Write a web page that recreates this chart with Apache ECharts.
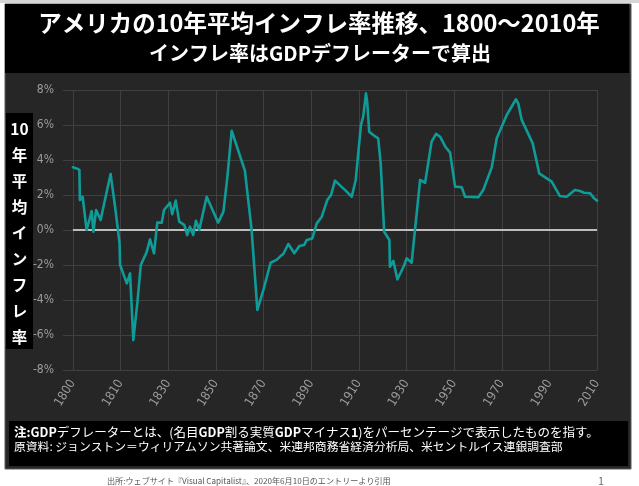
<!DOCTYPE html>
<html>
<head>
<meta charset="utf-8">
<script src="https://cdn.jsdelivr.net/npm/echarts@6/dist/echarts.min.js"></script>
<style>
html,body{margin:0;padding:0;background:#fff;}
#c{width:639px;height:486px;}
</style>
</head>
<body>
<div id="c"></div>
<script>
const titleText = 'アメリカの10年平均インフレ率推移、1800～2010年';
const subtitleText = 'インフレ率はGDPデフレーターで算出';
const yAxisTitle = ['10','年','平','均','イ','ン','フ','レ','率'];
const tickLabels = ['1800','1810','1830','1850','1870','1890','1910','1930','1950','1970','1990','2010'];
const yTickValues = [-8,-6,-4,-2,0,2,4,6,8];
const years = [1800,1801.5,1802.6,1802.8,1803.9,1804.7,1805.5,1806.6,1807.5,1808.2,1809.3,1809.9,1811.1,1815.1,1816.9,1818.7,1818.9,1821.6,1822.9,1824.2,1825.8,1827.2,1829.6,1830.9,1832.5,1833.8,1835.6,1836.5,1838.9,1839.8,1841.2,1842.6,1844.6,1845.8,1846.9,1848.2,1849.3,1850.6,1853.6,1858.2,1860.3,1861.9,1863.6,1868.9,1871.6,1873.9,1876.3,1879.2,1881.6,1883.2,1884.3,1886.3,1888.7,1890.7,1892.6,1893.7,1895.9,1897.7,1899.7,1901.9,1903.4,1905,1908.3,1909.7,1911.7,1913.3,1915.4,1916.3,1917.4,1917.9,1918.7,1920.3,1922.3,1923.3,1924.7,1926.8,1927.0,1928.4,1930.0,1932.6,1933.7,1935.7,1939.1,1941.1,1943.7,1945.5,1947.1,1949.2,1951.1,1951.8,1953.1,1955.8,1957.1,1962.4,1964.4,1967.8,1969.8,1973.8,1977.5,1978.4,1979.8,1984.2,1986.8,1991.8,1995.1,1997.8,2001.1,2003.1,2004.8,2007.2,2008.8,2010];
const inflation = [3.58,3.52,3.43,1.71,1.90,2.0,0,0.57,1.08,-0.1,1.14,1.14,0.57,3.2,1.33,-0.76,-2.0,-3.05,-2.48,-6.29,-4.19,-2.0,-1.24,-0.53,-1.33,0.42,0.42,1.14,1.56,0.9,1.68,0.48,0.29,-0.29,0.19,-0.29,0.53,0,1.9,0.42,1.05,3.05,5.67,3.39,0,-4.57,-3.43,-1.87,-1.71,-1.49,-1.37,-0.8,-1.33,-0.91,-0.86,-0.57,-0.48,0.38,0.76,1.71,2.0,2.82,2.38,2.19,1.9,2.86,6.0,6.48,7.81,7.33,5.62,5.43,5.24,3.81,-0.1,-0.57,-2.1,-1.77,-2.82,-2.06,-1.62,-1.87,2.86,2.7,5.05,5.49,5.33,4.76,4.42,4.34,2.48,2.44,1.9,1.87,2.29,3.58,5.24,6.57,7.47,7.24,6.29,4.95,3.24,2.76,1.94,1.9,2.29,2.23,2.13,2.1,1.81,1.68];
const noteLine1 = '{b|注:GDP}デフレーターとは、(名目{b|GDP}割る実質{b|GDP}マイナス{b|1})をパーセンテージで表示したものを指す。';
const noteLine2 = '原資料: ジョンストン＝ウィリアムソン共著論文、米連邦商務省経済分析局、米セントルイス連銀調査部';
const sourceText = '出所:ウェブサイト『Visual Capitalist』、2020年6月10日のエントリーより引用';
const pageNumber = '1';

const SPAN = 210 / 11;
const seriesData = years.map((y, i) => [(y - 1800) / SPAN, inflation[i]]);

const CJK = '"Noto Sans CJK JP", sans-serif';
const NARROW = '"Liberation Sans Narrow", "DejaVu Sans Condensed", sans-serif';
const GRID = '#404040';

const chart = echarts.init(document.getElementById('c'), null, {renderer: 'canvas'});
chart.setOption({
  backgroundColor: '#ffffff',
  animation: false,
  grid: {left: 72.9, right: 41.9, top: 90, bottom: 116, containLabel: false},
  xAxis: {
    type: 'value', min: 0, max: tickLabels.length - 1, interval: 1,
    axisLine: {show: false},
    axisTick: {show: true, length: 8, lineStyle: {color: GRID, width: 1}},
    splitLine: {show: true, lineStyle: {color: GRID, width: 1}},
    axisLabel: {
      formatter: v => tickLabels[Math.round(v)] || '',
      rotate: 58, margin: 11, color: '#9c9c9c', fontSize: 12.5, fontFamily: NARROW
    }
  },
  yAxis: {
    type: 'value', min: yTickValues[0], max: yTickValues[yTickValues.length - 1], interval: 2,
    axisLine: {show: false},
    axisTick: {show: true, length: 10, lineStyle: {color: GRID, width: 1}},
    splitLine: {show: true, lineStyle: {color: GRID, width: 1.2}},
    axisLabel: {formatter: v => v + '%', margin: 19, color: '#9c9c9c', fontSize: 12, fontFamily: NARROW}
  },
  series: [{
    type: 'line', data: seriesData, showSymbol: false, smooth: false,
    lineStyle: {color: '#0f9b97', width: 2.6, join: 'round', cap: 'round'},
    z: 5,
    markLine: {
      silent: true, symbol: 'none', label: {show: false},
      lineStyle: {color: '#bdbdbd', width: 2, type: 'solid'},
      data: [{yAxis: 0}], z: 3
    }
  }],
  graphic: [
    {type: 'rect', z: -100, silent: true, shape: {x: 0, y: 0, width: 639, height: 3}, style: {fill: '#d6d6d6'}},
    {type: 'rect', z: -99, silent: true, shape: {x: 5, y: 4, width: 626, height: 465}, style: {fill: '#262626', stroke: '#5a5a5a', lineWidth: 1}},
    {type: 'rect', z: -98, silent: true, shape: {x: 5, y: 4, width: 624, height: 69}, style: {fill: '#000000'}},
    {type: 'text', z: 10, silent: true, style: {text: titleText, x: 319, y: 23, textAlign: 'center', textVerticalAlign: 'middle', fill: '#ffffff', font: 'bold 23.5px ' + CJK}},
    {type: 'text', z: 10, silent: true, style: {text: subtitleText, x: 320, y: 53, textAlign: 'center', textVerticalAlign: 'middle', fill: '#ffffff', font: 'bold 20px ' + CJK}},
    {type: 'rect', z: -90, silent: true, shape: {x: 6, y: 113, width: 27, height: 236}, style: {fill: '#000000'}},
    {type: 'text', z: 10, silent: true, style: {text: yAxisTitle.join('\n'), x: 19.5, y: 116, textAlign: 'center', textVerticalAlign: 'top', lineHeight: 26, fill: '#ffffff', font: 'bold 15.5px ' + CJK}},
    {type: 'rect', z: -90, silent: true, shape: {x: 9, y: 421, width: 619, height: 45}, style: {fill: '#000000'}},
    {type: 'text', z: 10, silent: true, style: {text: noteLine1, x: 14, y: 432, textAlign: 'left', textVerticalAlign: 'middle', fill: '#ffffff', font: '12.5px ' + CJK,
      rich: {b: {fontWeight: 'bold', fill: '#ffffff', fontSize: 12.5, fontFamily: CJK}}}},
    {type: 'text', z: 10, silent: true, style: {text: noteLine2, x: 14, y: 447, textAlign: 'left', textVerticalAlign: 'middle', fill: '#ffffff', font: '11.8px ' + CJK}},
    {type: 'text', z: 10, silent: true, style: {text: sourceText, x: 107, y: 481, textAlign: 'left', textVerticalAlign: 'middle', fill: '#555555', font: '8.1px ' + CJK}},
    {type: 'text', z: 10, silent: true, style: {text: pageNumber, x: 601, y: 481, textAlign: 'center', textVerticalAlign: 'middle', fill: '#666666', font: '10px ' + CJK}}
  ]
});
</script>
</body>
</html>
